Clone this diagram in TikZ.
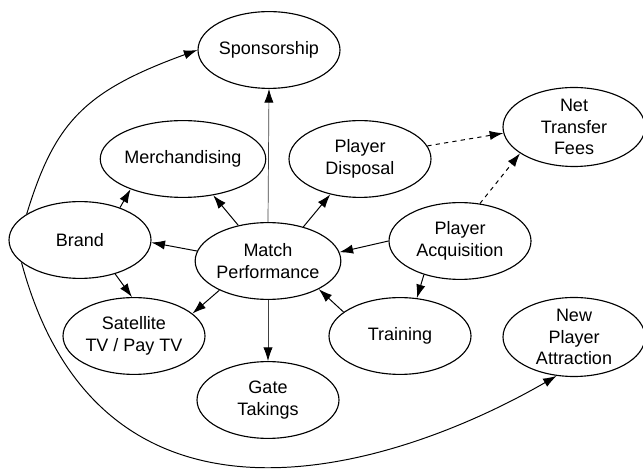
\documentclass[tikz,border=0pt]{standalone}
\usepackage{fontspec}
\setmainfont{Liberation Sans}
\usetikzlibrary{shapes.geometric, arrows.meta}

\begin{document}
\begin{tikzpicture}[
        every node/.style={align=center},
        bubble/.style={ellipse, draw, line width=0.8pt,
                       minimum width=3.55cm, minimum height=1.92cm, inner sep=0pt,
                       font=\fontsize{12.8}{15.4}\selectfont},
        link/.style={-{Latex[length=3.4mm,width=2.3mm]}, line width=0.7pt},
        thinlink/.style={-{Latex[length=3.4mm,width=2.3mm,color=black]}, line width=0.5pt, draw=black!75},
        fee/.style={link, dashed}
    ]
        \useasboundingbox (0,0) rectangle (16.075,11.775);

        % Place nodes with explicit coordinates
        \node [bubble] (spons) at (6.725,10.525) {Sponsorship};
        \node [bubble] (merch) at (4.575,7.8) {Merchandising};
        \node [bubble] (disp) at (9.0,7.8) {Player\\Disposal};
        \node [bubble] (fees) at (14.35,8.6) {Net\\Transfer\\Fees};
        \node [bubble] (brand) at (2.0,5.775) {Brand};
        \node [bubble] (match) at (6.7,5.25) {Match\\Performance};
        \node [bubble] (acq) at (11.5,5.75) {Player\\Acquisition};
        \node [bubble] (sat) at (3.35,3.375) {Satellite\\TV / Pay TV};
        \node [bubble] (train) at (10.0,3.375) {Training};
        \node [bubble] (attract) at (14.35,3.35) {New\\Player\\Attraction};
        \node [bubble] (gate) at (6.7,1.775) {Gate\\Takings};

        % Match Performance outwards
        \draw[thinlink] (match.north) -- (spons.south);
        \draw[link] (match) -- (merch);
        \draw[link] (match.44) -- (disp.230);
        \draw[link] (match.172) -- (brand.-2);
        \draw[link] (match.211) -- (sat.21);
        \draw[thinlink] (match.south) -- (gate.north);

        % Brand
        \draw[link] (brand.39) -- (merch.210);
        \draw[link] (brand.-44) -- (sat.93);
        \draw[link] (brand.154) to[out=73,in=200,out looseness=1.04,in looseness=1.3] (spons.180);
        \draw[link] (brand.201) to[out=-75,in=210,out looseness=1.44,in looseness=0.9] (attract.246);

        % Players
        \draw[link] (acq.west) -- (match.7);
        \draw[link] (acq.223) -- (train.66);
        \draw[link] (train.157) -- (match.-29);

        % Transfer fees (dashed)
        \draw[fee] (disp.11) -- (fees.185);
        \draw[fee] (acq.62) -- (fees.206);
    \end{tikzpicture}
\end{document}
